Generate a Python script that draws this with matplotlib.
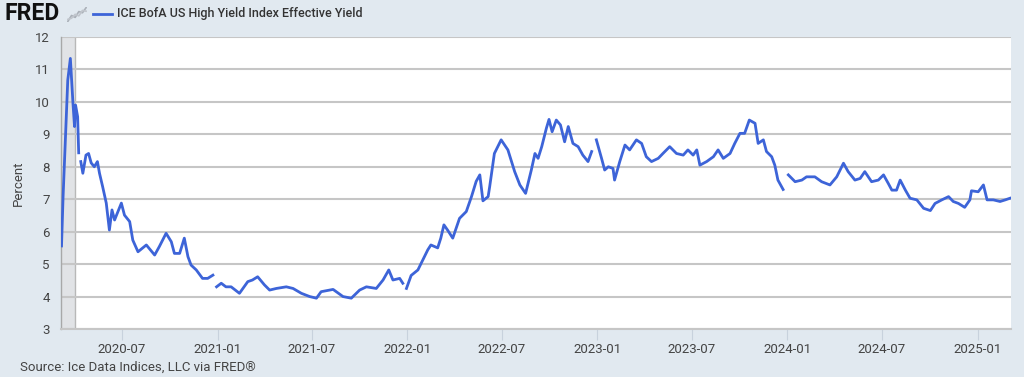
import numpy as np
import pandas as pd
import matplotlib
matplotlib.use("Agg")
import matplotlib.pyplot as plt
import matplotlib.dates as mdates

plt.rcParams['font.family'] = ['Roboto', 'DejaVu Sans']

# ICE BofA US High Yield Index Effective Yield (%)
# None marks a break in the line
dates = [
    "2020-03-07", "2020-03-10", "2020-03-19", "2020-03-24", "2020-03-29", "2020-04-01",
    "2020-04-03", "2020-04-07", "2020-04-09", "2020-04-10", "2020-04-13", "2020-04-17",
    "2020-04-23", "2020-04-28", "2020-05-03", "2020-05-09", "2020-05-15", "2020-05-19",
    "2020-05-25", "2020-06-01", "2020-06-07", "2020-06-12", "2020-06-17", "2020-06-30",
    "2020-07-06", "2020-07-16", "2020-07-22", "2020-08-01", "2020-08-17", "2020-09-02",
    "2020-09-11", "2020-09-24", "2020-10-04", "2020-10-10", "2020-10-20", "2020-10-29",
    "2020-11-05", "2020-11-11", "2020-11-21", "2020-12-03", "2020-12-13", "2020-12-23",
    "2020-12-27", "2020-12-30", "2021-01-08", "2021-01-17", "2021-01-27", "2021-02-12",
    "2021-02-28", "2021-03-09", "2021-03-19", "2021-04-01", "2021-04-11", "2021-04-24",
    "2021-05-13", "2021-05-26", "2021-06-11", "2021-06-27", "2021-07-10", "2021-07-19",
    "2021-08-11", "2021-08-30", "2021-09-15", "2021-10-01", "2021-10-14", "2021-11-02",
    "2021-11-15", "2021-11-26", "2021-12-04", "2021-12-17", "2021-12-23", "2021-12-27",
    "2021-12-30", "2022-01-08", "2022-01-21", "2022-01-31", "2022-02-09", "2022-02-15",
    "2022-02-28", "2022-03-06", "2022-03-12", "2022-03-19", "2022-03-29", "2022-04-11",
    "2022-04-24", "2022-05-04", "2022-05-13", "2022-05-20", "2022-05-26", "2022-06-05",
    "2022-06-08", "2022-06-17", "2022-06-30", "2022-07-13", "2022-07-26", "2022-08-05",
    "2022-08-16", "2022-08-27", "2022-09-03", "2022-09-09", "2022-09-16", "2022-09-25",
    "2022-09-30", "2022-10-06", "2022-10-14", "2022-10-22", "2022-10-30", "2022-11-06",
    "2022-11-15", "2022-11-25", "2022-12-04", "2022-12-14", "2022-12-21", "2022-12-26",
    "2022-12-30", "2023-01-09", "2023-01-15", "2023-01-22", "2023-01-31", "2023-02-03",
    "2023-02-13", "2023-02-23", "2023-03-04", "2023-03-17", "2023-03-27", "2023-04-05",
    "2023-04-15", "2023-04-28", "2023-05-07", "2023-05-20", "2023-06-02", "2023-06-15",
    "2023-06-24", "2023-07-04", "2023-07-11", "2023-07-17", "2023-07-30", "2023-08-12",
    "2023-08-21", "2023-08-31", "2023-09-13", "2023-09-22", "2023-10-02", "2023-10-11",
    "2023-10-20", "2023-10-31", "2023-11-06", "2023-11-16", "2023-11-22", "2023-12-02",
    "2023-12-08", "2023-12-14", "2023-12-24", "2023-12-27", "2024-01-03", "2024-01-16",
    "2024-01-29", "2024-02-07", "2024-02-23", "2024-03-07", "2024-03-23", "2024-04-05",
    "2024-04-18", "2024-04-27", "2024-05-10", "2024-05-20", "2024-05-29", "2024-06-11",
    "2024-06-24", "2024-07-04", "2024-07-13", "2024-07-20", "2024-07-29", "2024-08-05",
    "2024-08-15", "2024-08-24", "2024-09-06", "2024-09-19", "2024-10-02", "2024-10-11",
    "2024-10-24", "2024-11-06", "2024-11-15", "2024-11-25", "2024-12-07", "2024-12-17",
    "2024-12-20", "2025-01-02", "2025-01-12", "2025-01-19", "2025-01-31", "2025-02-13",
    "2025-02-23", "2025-03-04",
]
yields = [
    5.56, 7.08, 10.67, 11.34, 9.96, 9.24,
    9.90, 9.54, 8.43, None, 8.16, 7.80,
    8.36, 8.41, 8.12, 8.00, 8.16, 7.80,
    7.39, 6.88, 6.05, 6.67, 6.36, 6.88,
    6.51, 6.31, 5.74, 5.38, 5.59, 5.28,
    5.54, 5.95, 5.69, 5.33, 5.33, 5.80,
    5.23, 4.97, 4.82, 4.56, 4.56, 4.66,
    None, 4.30, 4.41, 4.30, 4.30, 4.10,
    4.46, 4.51, 4.61, 4.36, 4.20, 4.25,
    4.30, 4.25, 4.10, 4.00, 3.95, 4.15,
    4.22, 4.00, 3.95, 4.20, 4.30, 4.25,
    4.51, 4.82, 4.51, 4.56, 4.41, None,
    4.25, 4.65, 4.82, 5.15, 5.44, 5.59,
    5.50, 5.80, 6.21, 6.05, 5.80, 6.41,
    6.62, 7.08, 7.55, 7.75, 6.95, 7.08,
    7.39, 8.41, 8.83, 8.52, 7.85, 7.44,
    7.18, 7.90, 8.41, 8.26, 8.62, 9.19,
    9.46, 9.08, 9.44, 9.29, 8.77, 9.24,
    8.72, 8.62, 8.36, 8.16, 8.47, None,
    8.83, 8.26, 7.90, 8.00, 7.95, 7.59,
    8.16, 8.67, 8.52, 8.83, 8.72, 8.31,
    8.16, 8.26, 8.41, 8.62, 8.41, 8.36,
    8.52, 8.36, 8.52, 8.05, 8.16, 8.31,
    8.52, 8.26, 8.41, 8.72, 9.03, 9.03,
    9.44, 9.34, 8.72, 8.83, 8.47, 8.31,
    8.05, 7.59, 7.30, None, 7.75, 7.54,
    7.59, 7.69, 7.69, 7.54, 7.44, 7.69,
    8.11, 7.85, 7.59, 7.64, 7.85, 7.54,
    7.59, 7.75, 7.49, 7.28, 7.28, 7.59,
    7.28, 7.03, 6.98, 6.72, 6.65, 6.87,
    6.98, 7.08, 6.93, 6.87, 6.75, 6.98,
    7.26, 7.23, 7.44, 6.98, 6.98, 6.93,
    6.98, 7.03,
]
recession = ("2020-02-01", "2020-04-01")
x_range = ("2020-03-06", "2025-03-06")
y_ticks = [3, 4, 5, 6, 7, 8, 9, 10, 11, 12]

df = pd.DataFrame({"date": pd.to_datetime(dates),
                   "value": pd.to_numeric(pd.Series(yields, dtype="float"))})

bg = '#e1e9f0'
fig = plt.figure(figsize=(10.24, 3.77), dpi=100, facecolor=bg)
ax = fig.add_axes([61 / 1024, 48 / 377, 950 / 1024, 292 / 377])
ax.set_facecolor('white')

ax.axvspan(pd.Timestamp(recession[0]), pd.Timestamp(recession[1]),
           color='#e1e3e6', zorder=0, lw=0)
ax.axvline(pd.Timestamp(recession[1]), color='#b8b8b8', lw=1, zorder=0.5)

for t in y_ticks:
    ax.axhline(t, color='#c6c6c6', lw=1.5, zorder=1)

ax.plot(df["date"], df["value"], color='#3d64d8', lw=2, zorder=3,
        solid_joinstyle='round')

ax.set_xlim(pd.Timestamp(x_range[0]), pd.Timestamp(x_range[1]))
ax.set_ylim(3, 12)
ax.set_yticks(y_ticks)
ax.xaxis.set_major_locator(mdates.MonthLocator(bymonth=[1, 7]))
ax.xaxis.set_major_formatter(mdates.DateFormatter('%Y-%m'))
ax.tick_params(axis='x', length=8, color='#c8d2dd', labelsize=9.5,
               labelcolor='#444444', pad=2, direction='out')
ax.tick_params(axis='y', length=0, labelsize=9.5, labelcolor='#444444', pad=8)

for s in ['top', 'right']:
    ax.spines[s].set_visible(False)
ax.spines['left'].set_color('#a8a8a8')
ax.spines['bottom'].set_color('#c6c6c6')
ax.spines['left'].set_linewidth(1)
ax.spines['bottom'].set_linewidth(1.5)

ax.set_ylabel('Percent', fontsize=9.5, color='#444444')
ax.yaxis.set_label_coords(18 / 1024, 1 - 183 / 377, transform=fig.transFigure)
ax.yaxis.label.set_va('center')

# header: FRED logo text + legend entry
fig.text(4 / 1024, 1 - 14 / 377, 'FRED', fontsize=16.5, fontweight='bold',
         color='#111111', va='center', ha='left')
icon = fig.add_axes([67 / 1024, 1 - 22 / 377, 20 / 1024, 15 / 377])
icon.plot([0, 1, 2, 3, 4, 5], [0, 1.5, 1, 2.5, 2.2, 3.5], color='#aab0b8', lw=1.2)
icon.plot([0, 1, 2, 3, 4, 5], [0.5, 0.8, 1.8, 1.4, 2.8, 2.6], color='#c0c5cc', lw=1.2)
icon.set_axis_off()
fig.lines.append(plt.Line2D([93 / 1024, 112 / 1024], [1 - 14 / 377, 1 - 14 / 377],
                            transform=fig.transFigure, color='#3d64d8', lw=2))
fig.text(117 / 1024, 1 - 14 / 377, 'ICE BofA US High Yield Index Effective Yield',
         fontsize=9, color='#333333', va='center', ha='left', fontweight='medium')

fig.text(20 / 1024, 1 - 367 / 377, 'Source: Ice Data Indices, LLC via FRED®',
         fontsize=9.5, color='#444444', va='center', ha='left')

fig.savefig('out.png', dpi=100, facecolor=bg)
